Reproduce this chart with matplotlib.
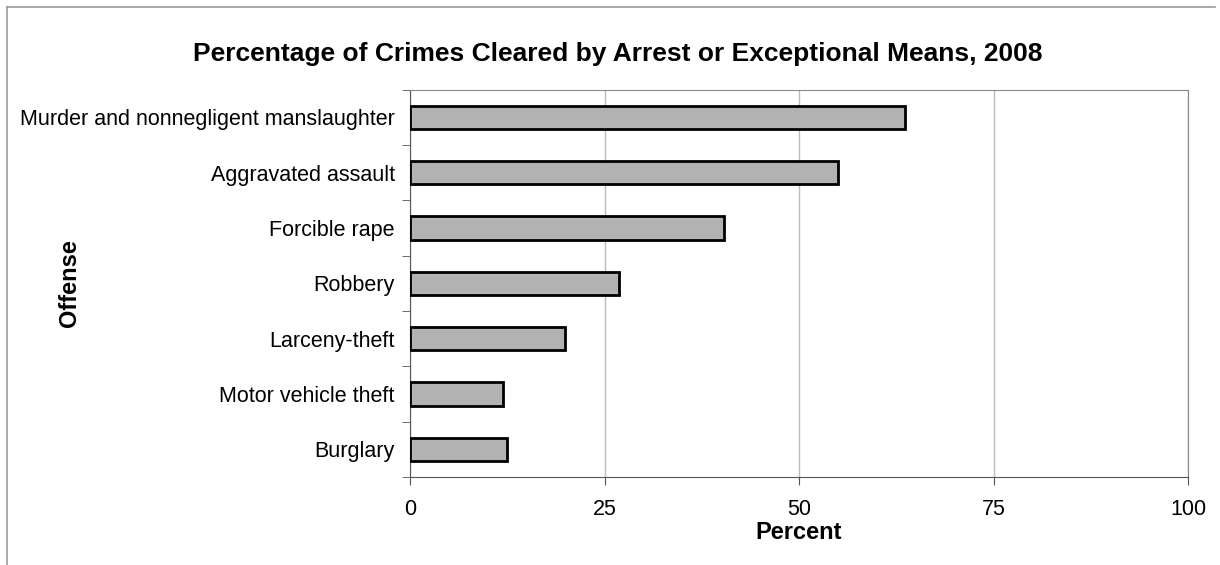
import numpy as np
import matplotlib.pyplot as plt
from matplotlib.lines import Line2D

plt.rcParams['font.family'] = ['Liberation Sans', 'DejaVu Sans']

# data (top to bottom as shown)
offenses = ['Murder and nonnegligent manslaughter', 'Aggravated assault',
            'Forcible rape', 'Robbery', 'Larceny-theft',
            'Motor vehicle theft', 'Burglary']
percent = [63.6, 55.0, 40.4, 26.8, 19.9, 12.0, 12.5]
xticks = [0, 25, 50, 75, 100]

fig = plt.figure(figsize=(12.2, 5.65), dpi=100)
ax = fig.add_axes([0.336, 0.156, 0.638, 0.685])

y = np.arange(len(offenses))[::-1]
ax.barh(y, percent, height=0.42, color='#b2b2b2', edgecolor='black', linewidth=2, zorder=3)

ax.set_xlim(0, 100)
ax.set_ylim(-0.5, len(offenses) - 0.5)
ax.set_xticks(xticks)
ax.set_xticklabels([str(t) for t in xticks], fontsize=15.5)
ax.set_yticks(y)
ax.set_yticklabels(offenses, fontsize=15.5)
ax.tick_params(axis='y', length=0, pad=11)
ax.tick_params(axis='x', length=6, color='#555555', pad=10)
# small ticks between categories
ax.set_yticks(np.arange(len(offenses) + 1) - 0.5, minor=True)
ax.tick_params(axis='y', which='minor', length=6, color='#555555')

ax.grid(axis='x', color='#bbbbbb', linewidth=1, zorder=0)
for s in ax.spines.values():
    s.set_color('#888888')
ax.spines['left'].set_color('#555555')
ax.spines['bottom'].set_color('#555555')

ax.set_xlabel('Percent', fontsize=17, fontweight='bold', labelpad=1)
ax.set_ylabel('Offense', fontsize=17, fontweight='bold')
ax.yaxis.set_label_coords(-0.422, 0.5)
fig.text(0.506, 0.905, 'Percentage of Crimes Cleared by Arrest or Exceptional Means, 2008',
         ha='center', va='center', fontsize=19, fontweight='bold')

# outer frame lines (top and left)
fig.add_artist(Line2D([0.006, 0.996], [0.988, 0.988], color='#999999', linewidth=1.2))
fig.add_artist(Line2D([0.006, 0.006], [0.0, 0.988], color='#999999', linewidth=1.2))

plt.savefig('out.png')
